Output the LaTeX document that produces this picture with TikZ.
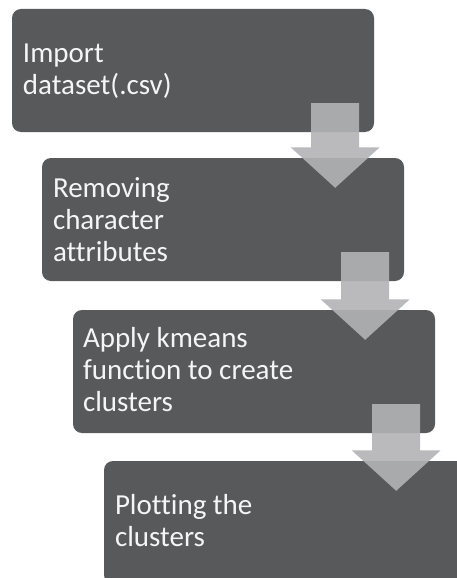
\documentclass[tikz,border=0pt]{standalone}
\usepackage{fontspec}
\setmainfont{Carlito}[Ligatures=NoCommon]
\usetikzlibrary{calc}
\definecolor{boxgray}{RGB}{88,89,91}
\definecolor{arrowgray}{RGB}{178,179,181}
\tikzset{
  stepbox/.style={rectangle, fill=boxgray, draw=none, rounded corners=9pt,
    minimum width=362pt, minimum height=123pt, inner sep=0pt},
  steptext/.style={anchor=base west, inner sep=0pt, text=white!96!black,
    font=\fontsize{29}{31.6}\selectfont},
  blockarrow/.style={fill=arrowgray, fill opacity=0.9, draw=none}
}
\newcommand\flowarrow[2]{%
  \fill[blockarrow] let \p1=($(#1.south east)+(-39,0)$), \p2=(#2.north) in
    (\x1-24pt,\y1+29pt) -- (\x1+24pt,\y1+29pt) -- (\x1+24pt,\y2+10.5pt)
    -- (\x1+44.5pt,\y2+10.5pt) -- (\x1,\y2-30pt) -- (\x1-44.5pt,\y2+10.5pt)
    -- (\x1-24pt,\y2+10.5pt) -- cycle;}
\begin{document}
\begin{tikzpicture}[x=1pt,y=-1pt]
  \useasboundingbox (0,0) rectangle (457,578);
  \clip (0,0) rectangle (457,578);
  \node[stepbox] (b1) at (193,70.5) {};
  \node[stepbox] (b2) at (223,219.5) {};
  \node[stepbox] (b3) at (254,371.5) {};
  \node[stepbox] (b4) at (285,522.5) {};
  \flowarrow{b1}{b2}
  \flowarrow{b2}{b3}
  \flowarrow{b3}{b4}
  \node[steptext] (t1) at ($(b1.north west)+(11,54)$) {\parbox[t]{330pt}{Import\\dataset(.csv)}};
  \node[steptext] (t2) at ($(b2.north west)+(11,40)$) {\parbox[t]{330pt}{Removing\\character\\attributes}};
  \node[steptext] (t3) at ($(b3.north west)+(10,38)$) {\parbox[t]{330pt}{Apply kmeans\\function to create\\clusters}};
  \node[steptext] (t4) at ($(b4.north west)+(11,54)$) {\parbox[t]{330pt}{Plotting the\\clusters}};
\end{tikzpicture}
\end{document}
